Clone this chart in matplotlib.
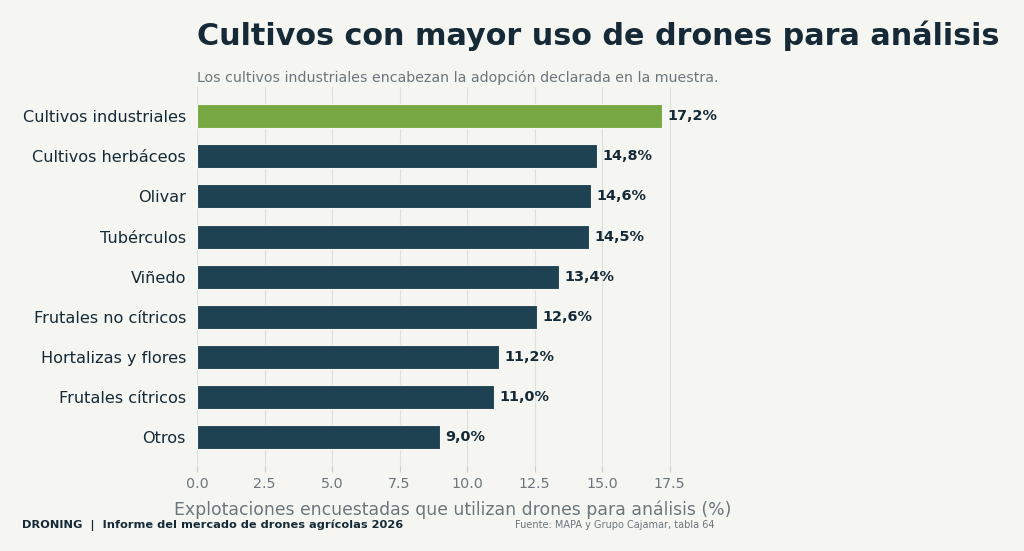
import matplotlib
matplotlib.use("Agg")
import matplotlib.pyplot as plt

categories = ["Cultivos industriales", "Cultivos herbáceos", "Olivar", "Tubérculos",
              "Viñedo", "Frutales no cítricos", "Hortalizas y flores", "Frutales cítricos", "Otros"]
values = [17.2, 14.8, 14.6, 14.5, 13.4, 12.6, 11.2, 11.0, 9.0]
value_labels = ["17,2%", "14,8%", "14,6%", "14,5%", "13,4%", "12,6%", "11,2%", "11,0%", "9,0%"]
xticks = [0.0, 2.5, 5.0, 7.5, 10.0, 12.5, 15.0, 17.5]

BG = "#f5f6f2"
DARK = "#1e4252"
GREEN = "#78a843"
TXT = "#152a36"
GRAY = "#6b767c"

plt.rcParams['font.family'] = ['DejaVu Sans']
fig = plt.figure(figsize=(10.24, 5.51), dpi=100, facecolor=BG)
ax = fig.add_axes([0.1924, 0.154, 0.499, 0.688], facecolor=BG)

ypos = list(range(len(categories)))
colors = [GREEN] + [DARK] * (len(categories) - 1)
ax.barh(ypos, values, height=0.6, color=colors, edgecolor="#f5f6f2", linewidth=0.8, zorder=3)
ax.invert_yaxis()
ax.set_xlim(0, max(values) * 1.1)
ax.set_yticks(ypos)
ax.set_yticklabels(categories, fontsize=11.6, color=TXT)
ax.set_xticks(xticks)
ax.set_xticklabels([f"{t:.1f}" for t in xticks], fontsize=10.3, color=GRAY)
ax.tick_params(axis='y', length=0, pad=8)
ax.tick_params(axis='x', length=4, color="#c8ccc8", pad=4)
for s in ax.spines.values():
    s.set_visible(False)
ax.grid(axis='x', color="#dde1dc", linewidth=0.8, zorder=0)
ax.set_axisbelow(True)

for y, v, lab in zip(ypos, values, value_labels):
    ax.text(v + 0.2, y, lab, va='center', ha='left', fontsize=10.4, fontweight='bold', color=TXT, zorder=4)

ax.set_xlabel("Explotaciones encuestadas que utilizan drones para análisis (%)",
              fontsize=12.4, color=GRAY, labelpad=7)

fig.text(0.1924, 0.935, "Cultivos con mayor uso de drones para análisis", fontsize=21.8,
         fontweight='bold', color=TXT, ha='left', va='center')
fig.text(0.1924, 0.858, "Los cultivos industriales encabezan la adopción declarada en la muestra.",
         fontsize=10.15, color=GRAY, ha='left', va='center')
fig.text(0.0215, 0.047, "DRONING  |  Informe del mercado de drones agrícolas 2026", fontsize=8.2,
         fontweight='bold', color=TXT, ha='left', va='center')
fig.text(0.698, 0.047, "Fuente: MAPA y Grupo Cajamar, tabla 64", fontsize=7.0,
         color=GRAY, ha='right', va='center')

fig.savefig("out.png", dpi=100, facecolor=BG)
